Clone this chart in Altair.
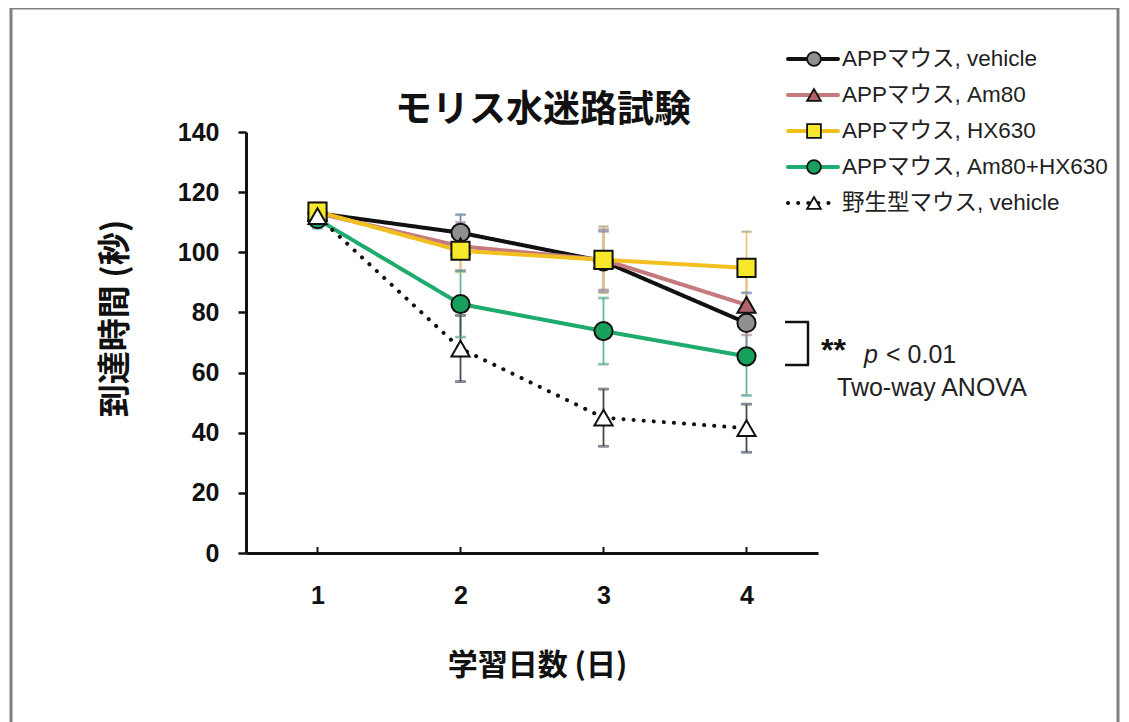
import altair as alt
import pandas as pd

# ---------------- data ----------------
days = [1, 2, 3, 4]
series = ["APPマウス, vehicle", "APPマウス, Am80", "APPマウス, HX630",
          "APPマウス, Am80+HX630", "野生型マウス, vehicle"]

vehicle_mean = [113, 106.5, 97, 76.5]
vehicle_err = [3, 6, 10, 10]
am80_mean = [113, 102, 97.5, 82.5]
am80_err = [3, 8, 10, 10]
hx630_mean = [113.5, 100.5, 97.5, 94.8]
hx630_err = [3, 7, 11, 12]
combo_mean = [111, 82.8, 73.8, 65.4]
combo_err = [3, 11, 11, 13]
wild_mean = [112, 68, 45, 41.5]
wild_err = [3, 11, 9.5, 8]

y_ticks = [0, 20, 40, 60, 80, 100, 120, 140]

means = [vehicle_mean, am80_mean, hx630_mean, combo_mean, wild_mean]
errs = [vehicle_err, am80_err, hx630_err, combo_err, wild_err]

# ---------------- styles ----------------
line_colors = ["#111111", "#c57a7e", "#f2c01e", "#1faa6e", "#111111"]
fill_colors = ["#8f8f8f", "#b0636b", "#f6e92c", "#17a15c", "#ffffff"]
err_colors = ["#7d8ca6", "#d49aa0", "#e8c777", "#62b996", "#4a4a4a"]
shapes = ["circle", "triangle-up", "square", "circle", "triangle-up"]
dashes = [[1, 0], [1, 0], [1, 0], [1, 0], [0.1, 10]]
draw_order = [3, 0, 1, 2, 4]

LAT = "Liberation Sans, Noto Sans CJK JP"
CJK = "Noto Sans CJK JP"

rows = []
for i in draw_order:
    for d, m, e in zip(days, means[i], errs[i]):
        rows.append({"series": series[i], "day": d, "mean": m,
                     "lower": m - e, "upper": m + e})
df = pd.DataFrame(rows)
leg = pd.DataFrame({"series": series})
one = pd.DataFrame({"k": [0]})
daydf = pd.DataFrame({"day": days})

W, H = 572, 421
xs = alt.Scale(domain=[0.5, 4.5], nice=False, zero=False)
ys = alt.Scale(domain=[0, 140], nice=False, zero=True)

col = alt.Color("series:N", scale=alt.Scale(domain=series, range=line_colors), legend=None)
errc = alt.Stroke("series:N", scale=alt.Scale(domain=series, range=err_colors), legend=None)
fillc = alt.Fill("series:N", scale=alt.Scale(domain=series, range=fill_colors), legend=None)
shp = alt.Shape("series:N", scale=alt.Scale(domain=series, range=shapes), legend=None)
dsh = alt.StrokeDash("series:N", scale=alt.Scale(domain=series, range=dashes), legend=None)

x_axis = alt.Axis(values=days, format="d", ticks=False, tickSize=0,
                  domainColor="#111111", domainWidth=3,
                  labelFont=LAT, labelFontSize=25, labelFontWeight="bold",
                  labelColor="#111111", labelPadding=30,
                  titleFont=CJK, titleFontSize=30, titleFontWeight="bold",
                  titleColor="#111111", titleX=291, titleY=112,
                  titleBaseline="middle", titleAlign="center", grid=False)
X = alt.X("day:Q", scale=xs, title="学習日数 (日)", axis=x_axis)

base = alt.Chart(df)

err_rule = base.mark_rule(strokeWidth=1.8).encode(
    x=X, y=alt.Y("lower:Q", scale=ys, axis=None), y2="upper:Q", stroke=errc)
cap_lo = base.mark_tick(orient="horizontal", size=10, thickness=1.8).encode(
    x=X, y=alt.Y("lower:Q", scale=ys, axis=None), stroke=errc)
cap_hi = base.mark_tick(orient="horizontal", size=10, thickness=1.8).encode(
    x=X, y=alt.Y("upper:Q", scale=ys, axis=None), stroke=errc)

lines = base.mark_line(strokeWidth=4, strokeCap="round", strokeJoin="round").encode(
    x=X,
    y=alt.Y("mean:Q", scale=ys, title="到達時間 (秒)",
            axis=alt.Axis(values=y_ticks, format="d", tickSize=8, tickWidth=2.5,
                          tickColor="#111111", domainColor="#111111", domainWidth=3,
                          labelFont=LAT, labelFontSize=25, labelFontWeight="bold",
                          labelColor="#111111", labelPadding=19,
                          titleFont=CJK, titleFontSize=33, titleFontWeight="bold",
                          titleColor="#111111", titleAngle=270, titleX=-131, titleY=186,
                          titleBaseline="middle", titleAlign="center", grid=False)),
    color=col, strokeDash=dsh, detail="series:N")

points = base.mark_point(filled=True, size=330, stroke="#111111", strokeWidth=2,
                         opacity=1).encode(
    x=X, y=alt.Y("mean:Q", scale=ys, axis=None), fill=fillc, shape=shp)

xticks = alt.Chart(daydf).mark_rule(strokeWidth=2, color="#111111").encode(
    x=X, y=alt.value(H - 6), y2=alt.value(H))

# legend (manual)
ly = alt.Y("series:N", scale=alt.Scale(type="point", domain=series, range=[-73, 71],
                                        padding=0), axis=None)
leg_line = alt.Chart(leg).mark_rule(strokeWidth=4, strokeCap="round").encode(
    x=alt.value(542), x2=alt.value(592), y=ly, color=col, strokeDash=dsh)
leg_pt = alt.Chart(leg).mark_point(filled=True, size=190, stroke="#111111",
                                    strokeWidth=1.8, opacity=1).encode(
    x=alt.value(568), y=ly, fill=fillc, shape=shp)
leg_txt = alt.Chart(leg).mark_text(align="left", baseline="middle", fontSize=22.5,
                                    font=LAT, color="#222222").encode(
    x=alt.value(596), y=ly, text="series:N")

# title
title = alt.Chart(one).mark_text(align="center", baseline="middle", fontSize=37,
                                  font=CJK, fontWeight="bold", color="#111111").encode(
    x=alt.value(297), y=alt.value(-21), text=alt.value("モリス水迷路試験"))

# significance annotation
br_v = alt.Chart(one).mark_rule(strokeWidth=2.5, color="#111111").encode(
    x=alt.value(562), y=alt.value(190), y2=alt.value(233))
br_t = alt.Chart(one).mark_rule(strokeWidth=2.5, color="#111111").encode(
    x=alt.value(539), x2=alt.value(563), y=alt.value(190))
br_b = alt.Chart(one).mark_rule(strokeWidth=2.5, color="#111111").encode(
    x=alt.value(539), x2=alt.value(563), y=alt.value(233))
stars = alt.Chart(one).mark_text(align="left", baseline="alphabetic", fontSize=32,
                                  font=LAT, fontWeight="bold", color="#111111").encode(
    x=alt.value(575), y=alt.value(229), text=alt.value("**"))
p_it = alt.Chart(one).mark_text(align="left", baseline="alphabetic", fontSize=25,
                                 font=LAT, fontStyle="italic", color="#222222").encode(
    x=alt.value(618), y=alt.value(231), text=alt.value("p"))
p_rest = alt.Chart(one).mark_text(align="left", baseline="alphabetic", fontSize=25,
                                   font=LAT, color="#222222").encode(
    x=alt.value(640), y=alt.value(231), text=alt.value("< 0.01"))
anova = alt.Chart(one).mark_text(align="left", baseline="alphabetic", fontSize=25,
                                  font=LAT, color="#222222").encode(
    x=alt.value(591), y=alt.value(264), text=alt.value("Two-way ANOVA"))

# outer frame
frame = alt.Chart(one).mark_rect(filled=False, stroke="#808080", strokeWidth=3).encode(
    x=alt.value(-235), x2=alt.value(872), y=alt.value(-124), y2=alt.value(620))

chart = alt.layer(
    frame, err_rule, cap_lo, cap_hi, lines, points, xticks,
    leg_line, leg_pt, leg_txt, title, br_v, br_t, br_b, stars, p_it, p_rest, anova
).resolve_scale(y="independent").properties(
    width=W, height=H,
    padding={"left": 238, "top": 124, "right": 303, "bottom": 169},
    autosize=alt.AutoSizeParams(type="none"),
    background="white",
).configure_view(stroke=None)

chart.save("out.html", embed_options={"renderer": "svg", "actions": False})
